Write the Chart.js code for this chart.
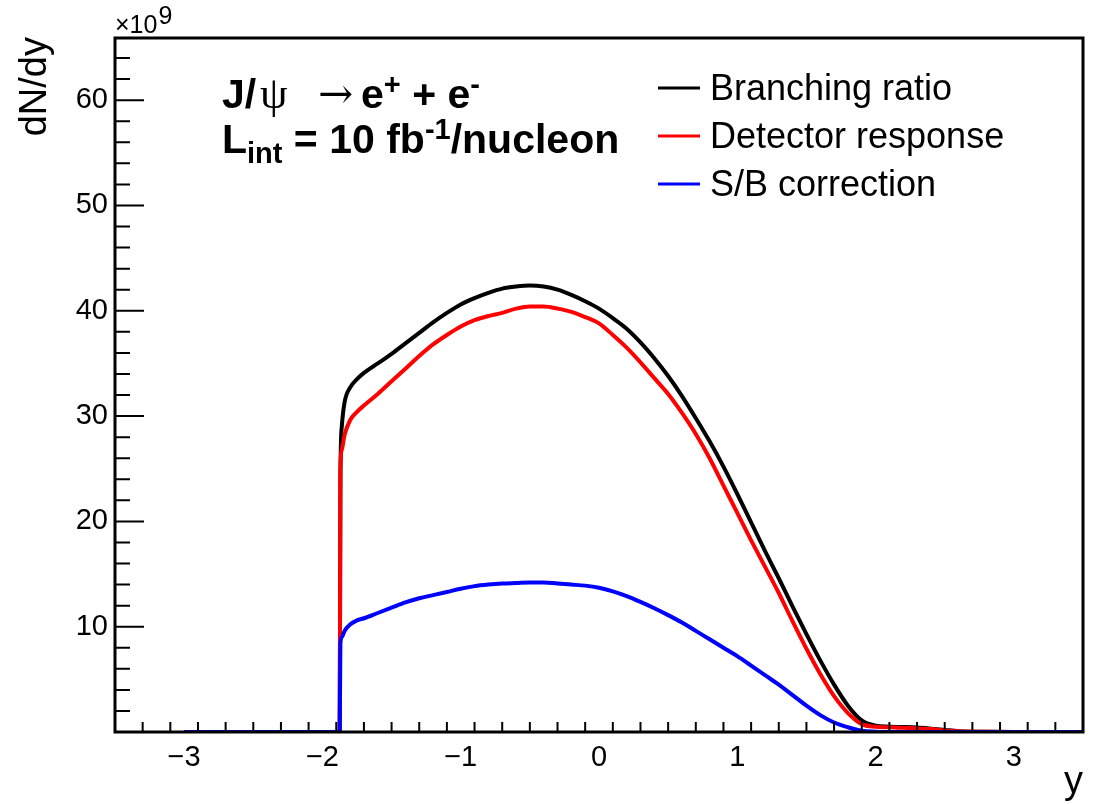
<!DOCTYPE html>
<html><head><meta charset="utf-8">
<script src="https://cdn.jsdelivr.net/npm/chart.js@4"></script>
<style>html,body{margin:0;padding:0;background:#fff}#wrap{width:1094px;height:804px}</style>
</head><body><div id="wrap"><canvas id="c" width="1094" height="804"></canvas></div>
<script>
const rapidity = [-3.0, -1.875, -1.87, -1.86, -1.84, -1.8, -1.75, -1.7, -1.6, -1.5, -1.4, -1.3, -1.2, -1.1, -1.0, -0.9, -0.8, -0.7, -0.6, -0.5, -0.4, -0.3, -0.2, -0.1, 0.0, 0.1, 0.2, 0.3, 0.4, 0.5, 0.6, 0.7, 0.8, 0.9, 1.0, 1.1, 1.2, 1.3, 1.4, 1.5, 1.6, 1.7, 1.8, 1.9, 2.0, 2.1, 2.2, 2.3, 2.4, 2.5, 2.6, 2.8, 3.0, 3.5];
const branchingRatio = [0, 0, 24, 29, 31.3, 32.7, 33.5, 34.1, 35.0, 35.9, 36.9, 37.9, 38.9, 39.8, 40.6, 41.2, 41.7, 42.1, 42.3, 42.4, 42.3, 42.0, 41.5, 40.9, 40.2, 39.3, 38.3, 37.0, 35.5, 33.8, 31.9, 29.8, 27.6, 25.2, 22.6, 19.9, 17.2, 14.6, 11.9, 9.3, 6.8, 4.5, 2.5, 1.1, 0.6, 0.5, 0.47, 0.42, 0.32, 0.2, 0.08, 0.02, 0, 0];
const detectorResponse = [0, 0, 25, 26.8, 28.2, 29.6, 30.4, 31.0, 32.1, 33.3, 34.5, 35.7, 36.8, 37.7, 38.5, 39.1, 39.5, 39.8, 40.2, 40.4, 40.4, 40.2, 39.9, 39.4, 38.8, 37.7, 36.5, 35.1, 33.6, 32.1, 30.3, 28.3, 26.0, 23.4, 20.8, 18.2, 15.7, 13.2, 10.5, 7.9, 5.5, 3.4, 1.8, 0.75, 0.5, 0.45, 0.4, 0.35, 0.28, 0.15, 0.07, 0.02, 0, 0];
const sbCorrection = [0, 0, 8.4, 9.0, 9.6, 10.2, 10.6, 10.8, 11.3, 11.8, 12.3, 12.7, 13.0, 13.3, 13.6, 13.85, 14.0, 14.1, 14.15, 14.2, 14.2, 14.1, 14.0, 13.9, 13.7, 13.35, 12.9, 12.35, 11.75, 11.1, 10.4, 9.6, 8.8, 8.0, 7.2, 6.3, 5.4, 4.5, 3.5, 2.5, 1.6, 0.9, 0.45, 0.12, 0.03, 0, 0, 0, 0, 0, 0, 0, 0, 0];
const seriesLabels = ['Branching ratio', 'Detector response', 'S/B correction'];
const seriesColors = ['#000000', '#ff0000', '#0000ff'];
const xTickValues = [-3, -2, -1, 0, 1, 2, 3];
const yTickValues = [10, 20, 30, 40, 50, 60];
const xRange = [-3.5, 3.5];
const yRange = [0, 65.9];

const toPts = arr => rapidity.map((x, i) => ({x: x, y: arr[i]}));
const FONT = '"Liberation Sans", Arial, sans-serif';

const decor = {
  id: 'decor',
  afterDatasetsDraw(chart) {
    const ctx = chart.ctx;
    const a = chart.chartArea;
    const xs = chart.scales.x, ys = chart.scales.y;
    ctx.save();
    ctx.strokeStyle = '#000';
    // ticks
    ctx.lineWidth = 2;
    ctx.beginPath();
    for (let k = -35; k <= 35; k += 2) {
      const v = k / 10;
      const px = xs.getPixelForValue(v);
      const major = Math.abs(v - Math.round(v)) < 1e-6;
      const len = major ? 20 : 10;
      ctx.moveTo(px, a.bottom); ctx.lineTo(px, a.bottom - len);
    }
    for (let v = 2; v <= 64; v += 2) {
      const py = ys.getPixelForValue(v);
      const len = (v % 10 === 0) ? 29 : 15;
      ctx.moveTo(a.left, py); ctx.lineTo(a.left + len, py);
    }
    ctx.stroke();
    // frame
    ctx.lineWidth = 3;
    ctx.strokeRect(a.left, a.top, a.right - a.left, a.bottom - a.top);
    ctx.fillStyle = '#000';
    // axis titles
    ctx.font = '38px ' + FONT;
    ctx.save();
    ctx.translate(46, 37);
    ctx.rotate(-Math.PI / 2);
    ctx.textAlign = 'right';
    ctx.textBaseline = 'alphabetic';
    ctx.fillText('dN/dy', 0, 0);
    ctx.restore();
    ctx.textAlign = 'right';
    ctx.fillText('y', a.right, 793);
    // exponent
    ctx.textAlign = 'left';
    ctx.font = '25px ' + FONT;
    ctx.fillText('\u00d710', a.left, 33);
    const w10 = ctx.measureText('\u00d710').width;
    ctx.fillText('9', a.left + w10 + 1, 24);
    // annotation text
    const runs = (x, y, list) => {
      for (const r of list) {
        if (r.x !== undefined) x = r.x;
        ctx.font = r.f;
        ctx.fillText(r.t, x, y - (r.dy || 0));
        x += ctx.measureText(r.t).width;
      }
    };
    const B = 'bold 41px ' + FONT;
    const Bs = 'bold 29px ' + FONT;
    const S = '44px "Liberation Serif", "DejaVu Serif", serif';
    const A = '42px "DejaVu Serif", "DejaVu Sans", serif';
    runs(222, 108, [
      {t: 'J/', f: B}, {t: '\u03c8', f: S, x: 260}, {t: '\u2192', f: A, x: 318},
      {t: 'e', f: B, x: 361}, {t: '+', f: Bs, dy: 14}, {t: ' + e', f: B}, {t: '-', f: Bs, dy: 14}
    ]);
    runs(222, 153, [
      {t: 'L', f: B}, {t: 'int', f: Bs, dy: -10}, {t: ' = 10 fb', f: B}, {t: '-1', f: Bs, dy: 14}, {t: '/nucleon', f: B}
    ]);
    // legend
    ctx.font = '36px ' + FONT;
    ctx.textBaseline = 'middle';
    const rowsY = [88, 136, 184];
    chart.data.datasets.forEach((ds, i) => {
      ctx.strokeStyle = ds.borderColor;
      ctx.lineWidth = 3;
      ctx.beginPath();
      ctx.moveTo(658, rowsY[i]); ctx.lineTo(700, rowsY[i]);
      ctx.stroke();
      ctx.fillStyle = '#000';
      ctx.fillText(ds.label, 710, rowsY[i] + 2);
    });
    ctx.restore();
  }
};

new Chart(document.getElementById('c'), {
  type: 'line',
  data: {
    datasets: [
      {label: seriesLabels[0], data: toPts(branchingRatio), borderColor: seriesColors[0], order: 2},
      {label: seriesLabels[1], data: toPts(detectorResponse), borderColor: seriesColors[1], order: 1},
      {label: seriesLabels[2], data: toPts(sbCorrection), borderColor: seriesColors[2], order: 0}
    ]
  },
  options: {
    responsive: false,
    animation: false,
    devicePixelRatio: 1,
    elements: {
      line: {borderWidth: 4, tension: 0, cubicInterpolationMode: 'monotone', fill: false},
      point: {radius: 0, hoverRadius: 0}
    },
    layout: {padding: {top: 38, right: 11, left: 0, bottom: 0}},
    plugins: {legend: {display: false}, tooltip: {enabled: false}},
    scales: {
      x: {
        type: 'linear', min: xRange[0], max: xRange[1],
        grid: {display: false, drawTicks: false}, border: {display: false},
        afterBuildTicks: s => { s.ticks = xTickValues.map(v => ({value: v})); },
        afterFit: s => { s.height = 72; },
        ticks: {
          color: '#000', padding: 9, maxRotation: 0, autoSkip: false,
          font: {family: FONT, size: 29},
          callback: v => (v < 0 ? '\u2212' + Math.abs(v) : String(v))
        }
      },
      y: {
        type: 'linear', min: yRange[0], max: yRange[1],
        grid: {display: false, drawTicks: false}, border: {display: false},
        afterBuildTicks: s => { s.ticks = yTickValues.map(v => ({value: v})); },
        afterFit: s => { s.width = 115; },
        ticks: {
          color: '#000', padding: 7, autoSkip: false,
          font: {family: FONT, size: 29},
          callback: v => String(v)
        }
      }
    }
  },
  plugins: [decor]
});
</script>
</body></html>
